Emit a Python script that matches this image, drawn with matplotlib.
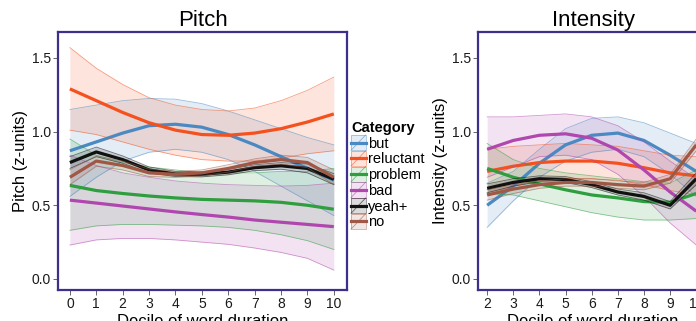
import numpy as np
import matplotlib
matplotlib.use("Agg")
import matplotlib.pyplot as plt
from matplotlib.lines import Line2D
from matplotlib.patches import Rectangle
from matplotlib.legend_handler import HandlerBase

plt.rcParams["font.family"] = ["Liberation Sans", "DejaVu Sans"]

categories = ["but", "reluctant", "problem", "bad", "yeah+", "no"]
colors = ["#4a89c2", "#f4511e", "#2e9e3e", "#b047ae", "#111111", "#a05846"]

# Pitch panel, deciles 0..10
pitch_x = np.arange(0, 11)
pitch_mid = {
    "but":       [0.87, 0.93, 0.99, 1.04, 1.05, 1.03, 0.98, 0.91, 0.83, 0.75, 0.67],
    "reluctant": [1.29, 1.21, 1.13, 1.06, 1.01, 0.98, 0.975, 0.99, 1.02, 1.065, 1.12],
    "problem":   [0.635, 0.60, 0.58, 0.563, 0.55, 0.54, 0.535, 0.53, 0.52, 0.50, 0.473],
    "bad":       [0.535, 0.515, 0.495, 0.475, 0.455, 0.437, 0.42, 0.40, 0.385, 0.37, 0.355],
    "yeah+":     [0.79, 0.862, 0.81, 0.74, 0.712, 0.71, 0.725, 0.755, 0.768, 0.75, 0.677],
    "no":        [0.69, 0.80, 0.77, 0.72, 0.71, 0.72, 0.75, 0.79, 0.81, 0.79, 0.69],
}
pitch_lo = {
    "but":       [0.56, 0.69, 0.80, 0.86, 0.88, 0.86, 0.81, 0.73, 0.63, 0.53, 0.43],
    "reluctant": [1.01, 0.98, 0.93, 0.88, 0.84, 0.81, 0.80, 0.80, 0.82, 0.85, 0.87],
    "problem":   [0.33, 0.36, 0.37, 0.37, 0.365, 0.36, 0.35, 0.33, 0.30, 0.26, 0.20],
    "bad":       [0.23, 0.265, 0.275, 0.275, 0.265, 0.25, 0.235, 0.21, 0.18, 0.14, 0.06],
    "yeah+":     [0.75, 0.83, 0.785, 0.72, 0.695, 0.693, 0.707, 0.735, 0.745, 0.72, 0.64],
    "no":        [0.64, 0.765, 0.74, 0.695, 0.69, 0.70, 0.725, 0.765, 0.78, 0.755, 0.64],
}
pitch_hi = {
    "but":       [1.15, 1.18, 1.21, 1.225, 1.22, 1.19, 1.14, 1.08, 1.02, 0.96, 0.91],
    "reluctant": [1.57, 1.43, 1.32, 1.23, 1.18, 1.15, 1.14, 1.16, 1.21, 1.28, 1.37],
    "problem":   [0.95, 0.84, 0.79, 0.76, 0.74, 0.72, 0.72, 0.72, 0.73, 0.73, 0.75],
    "bad":       [0.84, 0.77, 0.72, 0.69, 0.665, 0.65, 0.64, 0.635, 0.63, 0.635, 0.65],
    "yeah+":     [0.83, 0.895, 0.835, 0.76, 0.73, 0.727, 0.743, 0.775, 0.79, 0.78, 0.715],
    "no":        [0.74, 0.835, 0.80, 0.745, 0.73, 0.74, 0.775, 0.815, 0.84, 0.825, 0.74],
}

# Intensity panel, deciles 2..10
int_x = np.arange(2, 11)
int_mid = {
    "but":       [0.50, 0.63, 0.785, 0.91, 0.975, 0.99, 0.94, 0.84, 0.73],
    "reluctant": [0.73, 0.765, 0.79, 0.80, 0.80, 0.785, 0.755, 0.72, 0.70],
    "problem":   [0.75, 0.69, 0.645, 0.605, 0.57, 0.55, 0.525, 0.52, 0.58],
    "bad":       [0.88, 0.94, 0.975, 0.985, 0.955, 0.875, 0.74, 0.59, 0.46],
    "yeah+":     [0.615, 0.655, 0.68, 0.675, 0.64, 0.59, 0.56, 0.50, 0.68],
    "no":        [0.57, 0.61, 0.64, 0.655, 0.655, 0.64, 0.63, 0.68, 0.91],
}
int_lo = {
    "but":       [0.35, 0.53, 0.69, 0.80, 0.86, 0.88, 0.83, 0.71, 0.56],
    "reluctant": [0.57, 0.63, 0.67, 0.68, 0.68, 0.67, 0.64, 0.60, 0.57],
    "problem":   [0.58, 0.57, 0.53, 0.49, 0.45, 0.42, 0.40, 0.40, 0.41],
    "bad":       [0.69, 0.76, 0.83, 0.84, 0.81, 0.71, 0.56, 0.38, 0.23],
    "yeah+":     [0.585, 0.63, 0.66, 0.655, 0.62, 0.57, 0.535, 0.475, 0.64],
    "no":        [0.535, 0.58, 0.615, 0.63, 0.63, 0.615, 0.605, 0.65, 0.87],
}
int_hi = {
    "but":       [0.65, 0.73, 0.88, 1.02, 1.09, 1.10, 1.06, 0.99, 0.92],
    "reluctant": [0.88, 0.90, 0.91, 0.92, 0.91, 0.90, 0.87, 0.84, 0.83],
    "problem":   [0.92, 0.81, 0.75, 0.72, 0.70, 0.68, 0.66, 0.65, 0.74],
    "bad":       [1.10, 1.10, 1.11, 1.12, 1.10, 1.04, 0.93, 0.80, 0.68],
    "yeah+":     [0.645, 0.68, 0.70, 0.695, 0.66, 0.61, 0.585, 0.525, 0.72],
    "no":        [0.605, 0.64, 0.665, 0.68, 0.68, 0.665, 0.655, 0.71, 0.95],
}

frame_col = "#3d308c"


def draw_panel(ax, x, mid, lo, hi, title, ylabel, xlim):
    for cat, col in zip(categories, colors):
        ax.fill_between(x, lo[cat], hi[cat], color=col, alpha=0.15, lw=0)
        ax.plot(x, lo[cat], color=col, lw=0.6, alpha=0.55)
        ax.plot(x, hi[cat], color=col, lw=0.6, alpha=0.55)
        ax.plot(x, mid[cat], color=col, lw=2.3, solid_capstyle="butt")
    ax.set_xlim(*xlim)
    ax.set_ylim(-0.075, 1.676)
    ax.set_xticks(x)
    ax.set_yticks([0.0, 0.5, 1.0, 1.5])
    ax.set_yticklabels(["0.0", "0.5", "1.0", "1.5"])
    for s in ax.spines.values():
        s.set_color(frame_col)
        s.set_linewidth(1.6)
    ax.tick_params(length=3.5, width=0.7, color="#666666", labelsize=10,
                   labelcolor="#1a1a1a", pad=1.5)
    ax.set_title(title, fontsize=16, pad=4)
    ax.set_ylabel(ylabel, fontsize=12, labelpad=3)
    ax.set_xlabel("Decile of word duration", fontsize=12, labelpad=2)


class RibbonKey(HandlerBase):
    def create_artists(self, legend, orig_handle, xdescent, ydescent,
                       width, height, fontsize, trans):
        col = orig_handle.get_color()
        w = width
        h = height + 3
        y0 = -ydescent - 1.5
        box = Rectangle((-xdescent, y0), w, h, facecolor=col, alpha=0.15,
                        edgecolor="none", transform=trans)
        edge = Rectangle((-xdescent, y0), w, h, facecolor="none",
                         edgecolor=col, alpha=0.5, lw=0.6, transform=trans)
        diag = Line2D([-xdescent, -xdescent + w], [y0, y0 + h], color=col,
                      lw=0.6, alpha=0.6, transform=trans)
        line = Line2D([-xdescent, -xdescent + w], [y0 + h / 2, y0 + h / 2],
                      color=col, lw=2.3, transform=trans)
        return [box, edge, diag, line]


fig = plt.figure(figsize=(6.96, 3.21), dpi=100)
ax1 = fig.add_axes([58 / 696, 31 / 321, 289 / 696, 258 / 321])
ax2 = fig.add_axes([478 / 696, 31 / 321, 230 / 696, 258 / 321])

draw_panel(ax1, pitch_x, pitch_mid, pitch_lo, pitch_hi, "Pitch",
           "Pitch (z-units)", (-0.45, 10.5))
draw_panel(ax2, int_x, int_mid, int_lo, int_hi, "Intensity",
           "Intensity (z-units)", (1.65, 10.45))

proxies = [Line2D([], [], color=c) for c in colors]
leg = fig.legend(proxies, categories, loc="upper left",
                 bbox_to_anchor=(351 / 696, 1 - 121 / 321),
                 frameon=False, fontsize=10.5, title="Category",
                 title_fontproperties={"weight": "bold", "size": 10.5},
                 handler_map={Line2D: RibbonKey()}, handlelength=1.0,
                 handleheight=0.8, labelspacing=0.12, handletextpad=0.15,
                 borderpad=0, borderaxespad=0)
leg._legend_box.align = "left"

fig.savefig("out.png", dpi=100)
